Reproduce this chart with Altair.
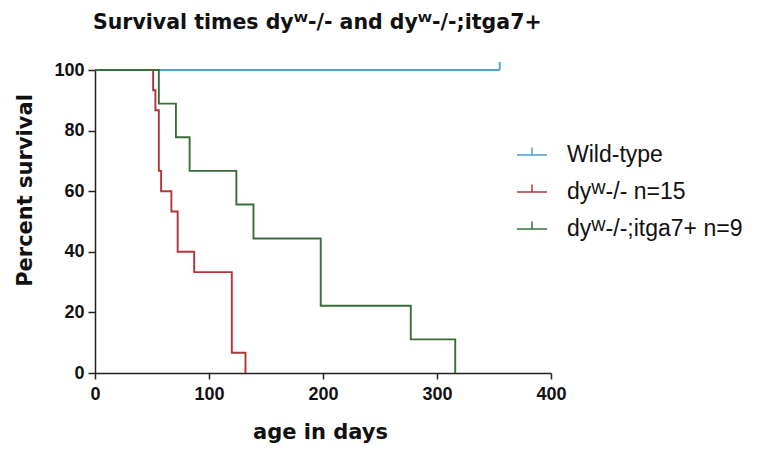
import altair as alt
import pandas as pd

SERIES = ["Wild-type", "dyᵂ-/-  n=15", "dyᵂ-/-;itga7+ n=9"]
COLORS = ["#4aa2d6", "#b1343a", "#3b6d3b"]

wt_days = [0, 355]
wt_surv = [100, 100]
ko_days = [0, 51, 53, 56, 58, 67, 72.5, 87, 120, 132]
ko_surv = [100, 93.3, 86.7, 66.7, 60, 53.3, 40, 33.3, 6.7, 0]
tg_days = [0, 56, 71, 83, 124, 139, 198, 277, 316]
tg_surv = [100, 88.9, 77.8, 66.7, 55.6, 44.4, 22.2, 11.1, 0]
censor_days = [355]
censor_surv = [100]

rows = []
for name, days, surv in zip(SERIES, [wt_days, ko_days, tg_days], [wt_surv, ko_surv, tg_surv]):
    for i, (d, s) in enumerate(zip(days, surv)):
        rows.append({"series": name, "day": d, "surv": s, "idx": i})
df = pd.DataFrame(rows)
cens = pd.DataFrame({"day": censor_days, "surv": censor_surv, "series": [SERIES[0]]})

xscale = alt.Scale(domain=[0, 400], nice=False)
yscale = alt.Scale(domain=[0, 100], nice=False)

xaxis = alt.Axis(
    values=[0, 100, 200, 300, 400], grid=False, tickSize=6, tickWidth=1.5,
    domainWidth=1.5, domainColor="#222", tickColor="#222", labelFlush=False,
    labelFont="Liberation Sans", labelFontSize=18, labelFontWeight="bold",
    labelColor="#111", labelPadding=6,
    title="age in days", titleFont="DejaVu Sans", titleFontSize=21, titleFontWeight="bold",
    titleColor="#111", titleX=225, titleY=59, titleBaseline="middle", titleAlign="center",
)
yaxis = alt.Axis(
    values=[0, 20, 40, 60, 80, 100], grid=False, tickSize=7, tickWidth=1.5,
    domainWidth=1.5, domainColor="#222", tickColor="#222", labelFlush=False,
    labelFont="Liberation Sans", labelFontSize=18, labelFontWeight="bold",
    labelColor="#111", labelPadding=4,
    title="Percent survival", titleFont="DejaVu Sans", titleFontSize=21, titleFontWeight="bold",
    titleColor="#111", titleX=-70, titleY=120, titleAngle=-90,
    titleBaseline="middle", titleAlign="center",
)

color = alt.Color(
    "series:N",
    scale=alt.Scale(domain=SERIES, range=COLORS),
    legend=alt.Legend(
        title=None, orient="none", legendX=421, legendY=69, padding=0,
        symbolType="M-1,0H1M0,0V-0.5", symbolSize=900, symbolStrokeWidth=1.5,
        symbolFillColor="transparent",
        labelFont="Liberation Sans", labelFontSize=23, labelColor="#111",
        labelOffset=19, rowPadding=9, labelLimit=400,
    ),
)

lines = alt.Chart(df).mark_line(interpolate="step-after", strokeWidth=1.9).encode(
    x=alt.X("day:Q", scale=xscale, axis=xaxis),
    y=alt.Y("surv:Q", scale=yscale, axis=yaxis),
    color=color,
    order="idx:Q",
)

ticks = alt.Chart(cens).mark_point(
    shape="M0,0V-1", size=256, strokeWidth=1.9, filled=False, opacity=1
).encode(
    x=alt.X("day:Q", scale=xscale),
    y=alt.Y("surv:Q", scale=yscale),
    color=alt.value(COLORS[0]),
)

chart = alt.layer(lines, ticks).properties(
    width=456, height=303,
    autosize=alt.AutoSizeParams(type="none"),
    padding={"left": 95, "top": 70, "right": 216, "bottom": 76},
    title=alt.TitleParams(
        text="Survival times dyᵂ-/- and dyᵂ-/-;itga7+", anchor="start", frame="group",
        font="DejaVu Sans", fontSize=20.5, fontWeight="bold", color="#111", offset=25, dx=-2,
    ),
).configure(background="white").configure_view(stroke=None)

chart.save("out.html", embed_options={"renderer": "svg", "actions": False})
